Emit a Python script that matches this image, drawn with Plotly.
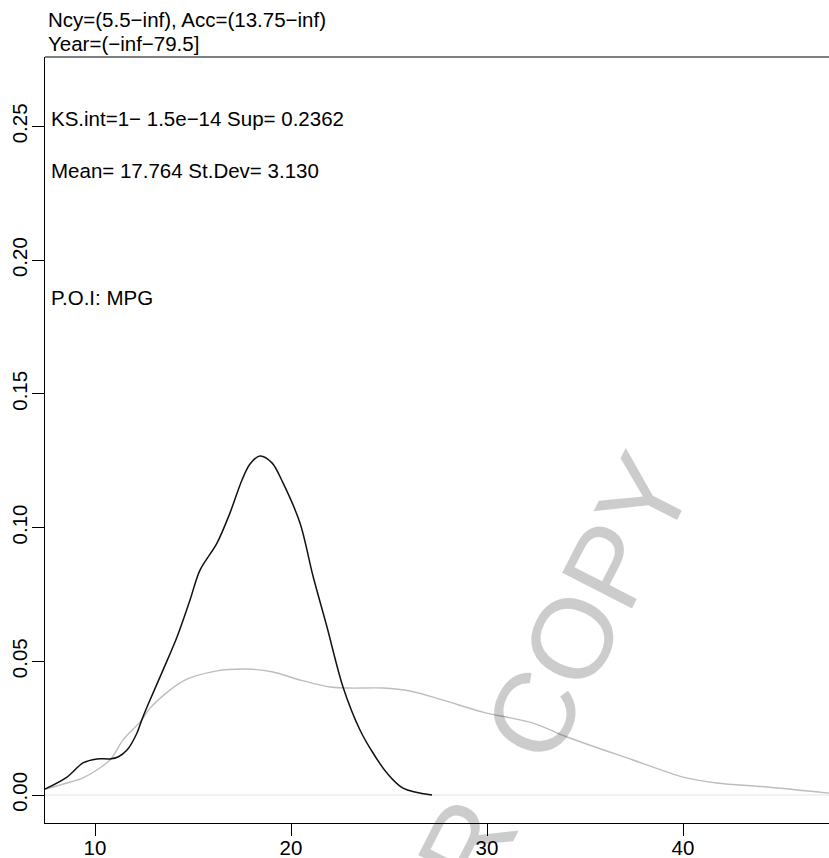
import plotly.graph_objects as go

# Density of MPG for the conditioned subset (black) and the whole data (gray)
sub_x = [7.449, 8.571, 9.388, 10.102, 10.765, 11.173, 11.633, 12.143, 12.383, 12.653,
         13.469, 14.184, 14.847, 15.357, 16.224, 16.888, 17.500, 17.908, 18.418, 19.031,
         19.592, 20.459, 21.122, 21.837, 22.653, 23.520, 24.184, 24.898, 25.714, 27.194]
sub_y = [0.0022, 0.0067, 0.0120, 0.0135, 0.0135, 0.0142, 0.0168, 0.0232, 0.0280, 0.0329,
         0.0467, 0.0591, 0.0729, 0.0841, 0.0942, 0.1055, 0.1178, 0.1238, 0.1268, 0.1242,
         0.1167, 0.1017, 0.0819, 0.0628, 0.0404, 0.0243, 0.0157, 0.0082, 0.0026, 0.0000]

all_x = [7.449, 8.571, 9.388, 10.765, 11.429, 12.383, 12.806, 14.490, 16.224, 17.755,
         19.082, 20.459, 21.990, 23.010, 24.694, 26.071, 27.755, 29.796, 32.347, 34.082,
         37.449, 40.000, 41.735, 44.286, 47.449]
all_y = [0.0022, 0.0045, 0.0064, 0.0131, 0.0206, 0.0280, 0.0325, 0.0426, 0.0464, 0.0471,
         0.0460, 0.0430, 0.0404, 0.0400, 0.0400, 0.0389, 0.0355, 0.0310, 0.0269, 0.0217,
         0.0131, 0.0067, 0.0045, 0.0030, 0.0007]

x_ticks = [10, 20, 30, 40]
y_ticks = [0.00, 0.05, 0.10, 0.15, 0.20, 0.25]
y_tick_labels = ["0.00", "0.05", "0.10", "0.15", "0.20", "0.25"]

title_lines = ["Ncy=(5.5\u2212inf), Acc=(13.75\u2212inf)", "Year=(\u2212inf\u221279.5]"]
info_lines = ["KS.int=1\u2212 1.5e\u221214 Sup= 0.2362", "Mean= 17.764 St.Dev= 3.130", "P.O.I: MPG"]
watermark = "AUTHOR\u00a0\u00a0COPY"

FONT = "Liberation Sans, Arial, Helvetica, sans-serif"
W, H = 829, 858
L, R, T, B = 45, 0, 57, 35
PH = H - T - B

def ypaper(py):
    return (H - B - py) / PH

fig = go.Figure()
fig.add_trace(go.Scatter(x=all_x, y=all_y, mode="lines",
                         line=dict(color="#bdbdbd", width=1.4, shape="spline", smoothing=0.9),
                         hoverinfo="skip", showlegend=False))
fig.add_trace(go.Scatter(x=sub_x, y=sub_y, mode="lines",
                         line=dict(color="#111111", width=1.5, shape="spline", smoothing=0.9),
                         hoverinfo="skip", showlegend=False))

# zero line and top border
fig.add_shape(type="line", xref="paper", yref="y", x0=0, x1=1, y0=0, y1=0,
              line=dict(color="#e2e2e2", width=1), layer="below")
fig.add_shape(type="line", xref="paper", yref="paper", x0=0, x1=1, y0=1, y1=1,
              line=dict(color="black", width=1))

annotations = []
for txt, py in zip(title_lines, [20, 43]):
    annotations.append(dict(text=txt, xref="paper", yref="paper", x=0, y=ypaper(py),
                            xanchor="left", yanchor="middle", showarrow=False, xshift=1,
                            font=dict(family=FONT, size=20.5, color="black")))
for txt, py in zip(info_lines, [119, 170, 297]):
    annotations.append(dict(text=txt, xref="paper", yref="paper", x=0, y=ypaper(py),
                            xanchor="left", yanchor="middle", showarrow=False, xshift=4,
                            font=dict(family=FONT, size=20.5, color="black")))
annotations.append(dict(text=watermark, xref="paper", yref="paper",
                        x=(465 - L) / (W - L - R), y=ypaper(850),
                        xanchor="center", yanchor="middle", showarrow=False, textangle=-63,
                        font=dict(family=FONT, size=114, color="rgba(0,0,0,0.2)")))

fig.update_layout(
    width=W, height=H, autosize=False,
    margin=dict(l=L, r=R, t=T, b=B, pad=0),
    paper_bgcolor="white", plot_bgcolor="white",
    font=dict(family=FONT, size=20.5, color="black"),
    annotations=annotations,
    xaxis=dict(range=[7.449, 47.449], tickvals=x_ticks, ticks="outside", ticklen=12,
               tickwidth=1, tickcolor="black", showline=True, linecolor="black", linewidth=1,
               showgrid=False, zeroline=False, tickfont=dict(size=20.5), automargin=False,
               ticklabelstandoff=-6),
    yaxis=dict(range=[-0.01047, 0.27599], tickvals=y_ticks, ticktext=y_tick_labels,
               ticks="outside", ticklen=12, tickwidth=1, tickcolor="black", tickangle=-90,
               showline=True, linecolor="black", linewidth=1, showgrid=False, zeroline=False,
               tickfont=dict(size=20.5), automargin=False, ticklabelstandoff=-3),
)

fig.write_html("out.html",
               config={"displayModeBar": False, "responsive": False},
               post_script="document.body.style.margin='0';document.body.style.overflow='hidden';")
